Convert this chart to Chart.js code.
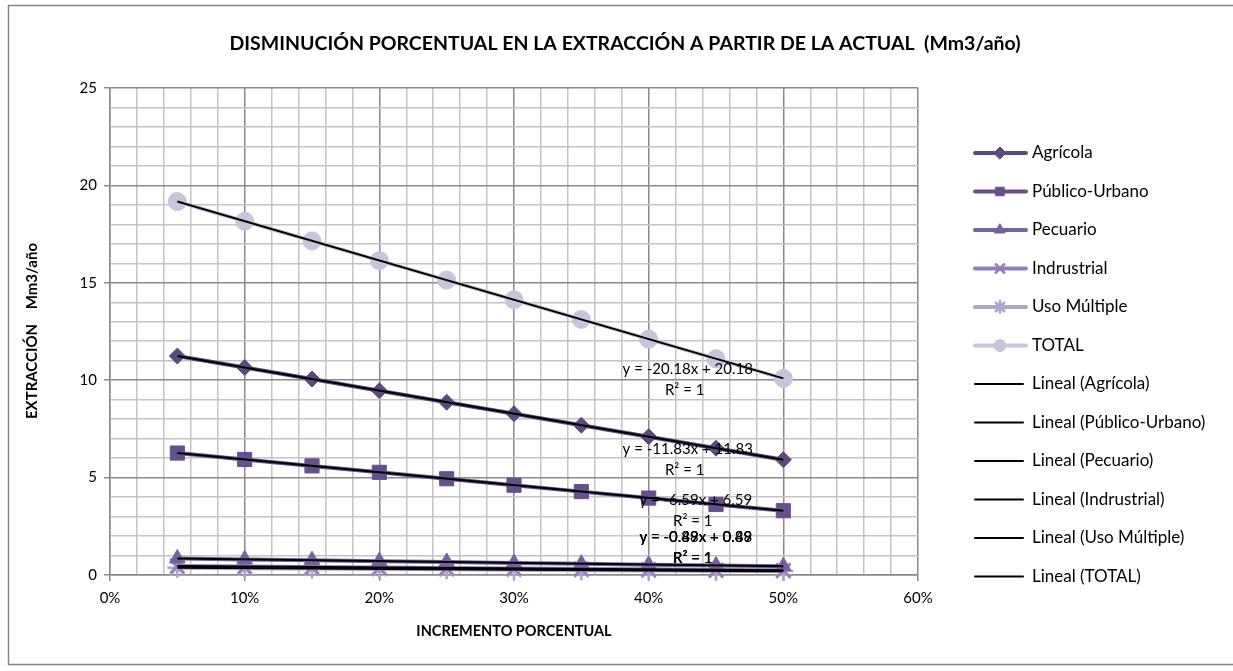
<!DOCTYPE html>
<html>
<head>
<meta charset="utf-8">
<script src="https://cdn.jsdelivr.net/npm/chart.js@4.4.1/dist/chart.umd.min.js"></script>
<style>
  html, body { margin: 0; padding: 0; background: #fff; }
  #wrap { width: 1233px; height: 671px; position: relative; }
</style>
</head>
<body>
<div id="wrap"><canvas id="chart" width="1233" height="671"></canvas></div>
<script>
// Data
const pct = [5, 10, 15, 20, 25, 30, 35, 40, 45, 50];
const agricola = [11.24, 10.65, 10.06, 9.46, 8.87, 8.28, 7.69, 7.10, 6.51, 5.92];
const publicoUrbano = [6.26, 5.93, 5.60, 5.27, 4.94, 4.61, 4.28, 3.95, 3.62, 3.30];
const pecuario = [0.85, 0.80, 0.76, 0.71, 0.67, 0.62, 0.58, 0.53, 0.49, 0.45];
const indrustrial = [0.46, 0.43, 0.41, 0.38, 0.36, 0.34, 0.31, 0.29, 0.26, 0.24];
const usoMultiple = [0.37, 0.35, 0.33, 0.31, 0.29, 0.27, 0.25, 0.23, 0.21, 0.20];
const total = [19.17, 18.16, 17.15, 16.14, 15.14, 14.13, 13.12, 12.11, 11.10, 10.09];

const seriesNames = ['Agrícola', 'Público-Urbano', 'Pecuario', 'Indrustrial', 'Uso Múltiple', 'TOTAL'];
const seriesValues = [agricola, publicoUrbano, pecuario, indrustrial, usoMultiple, total];
const eqLabels = ['y = -11.83x + 11.83', 'y = -6.59x + 6.59', 'y = -0.89x + 0.89',
                  'y = -0.48x + 0.48', 'y = -0.39x + 0.39', 'y = -20.18x + 20.18'];

// styles
const colors = ['#5C4A7E', '#65508E', '#7560A0', '#937FBA', '#AFA2CB', '#CBC3DC'];
const markers = ['rectRot', 'rect', 'triangle', 'crossRot', 'star', 'circle'];
const markerSize = [8, 10, 9, 10, 10, 9];
// where excel put the equation boxes (x in %, y in Mm3)
const eqPos = [[42.9, 6.47], [43.5, 3.85], [43.5, 1.95], [43.5, 1.95], [43.5, 1.95], [42.9, 10.57]];

const FONT = 'Lato, "Open Sans", sans-serif';

// least squares fit, x as fraction
function linFit(xs, ys) {
  const n = xs.length;
  let sx = 0, sy = 0, sxx = 0, sxy = 0;
  for (let i = 0; i < n; i++) {
    const x = xs[i] / 100;
    sx += x; sy += ys[i]; sxx += x * x; sxy += x * ys[i];
  }
  const m = (n * sxy - sx * sy) / (n * sxx - sx * sx);
  const b = (sy - m * sx) / n;
  return { m, b };
}

const datasets = [];
seriesNames.forEach((name, i) => {
  datasets.push({
    label: name,
    data: pct.map((p, k) => ({ x: p, y: seriesValues[i][k] })),
    borderColor: colors[i],
    backgroundColor: colors[i],
    borderWidth: 4,
    pointStyle: markers[i],
    pointRadius: markerSize[i],
    pointBorderWidth: (markers[i] == 'crossRot' || markers[i] == 'star') ? 2.5 : 1,
    pointBorderColor: colors[i],
    clip: false,
    order: 1
  });
});
seriesNames.forEach((name, i) => {
  const fit = linFit(pct, seriesValues[i]);
  const x0 = pct[0], x1 = pct[pct.length - 1];
  datasets.push({
    label: 'Lineal (' + name + ')',
    data: [{ x: x0, y: fit.m * x0 / 100 + fit.b }, { x: x1, y: fit.m * x1 / 100 + fit.b }],
    borderColor: '#000',
    borderWidth: 2,
    pointRadius: 0,
    order: 0,
    isTrend: true
  });
});

// title, axis titles, border, equations and legend
const extrasPlugin = {
  id: 'extras',
  beforeDraw(chart) {
    const ctx = chart.ctx;
    ctx.save();
    ctx.fillStyle = '#fff';
    ctx.fillRect(0, 0, chart.width, chart.height);
    ctx.strokeStyle = '#868686';
    ctx.lineWidth = 1.5;
    ctx.strokeRect(8.5, 5.5, 1240, 659);
    ctx.restore();
  },
  afterDatasetsDraw(chart) {
    const ctx = chart.ctx;
    const xs = chart.scales.x, ys = chart.scales.y;
    ctx.save();
    ctx.fillStyle = '#000';
    ctx.textAlign = 'center';
    ctx.textBaseline = 'middle';
    ctx.font = '15px ' + FONT;
    eqPos.forEach((p, i) => {
      const px = xs.getPixelForValue(p[0]);
      const py = ys.getPixelForValue(p[1]);
      ctx.fillText(eqLabels[i], px, py);
      ctx.fillText('R² = 1', px - 3, py + 21);
    });
    ctx.restore();
  },
  afterDraw(chart) {
    const ctx = chart.ctx;
    ctx.save();
    ctx.fillStyle = '#000';
    ctx.textAlign = 'center';
    ctx.textBaseline = 'middle';
    ctx.font = 'bold 19.5px ' + FONT;
    ctx.fillText('DISMINUCIÓN PORCENTUAL EN LA EXTRACCIÓN A PARTIR DE LA ACTUAL  (Mm3/año)', 625, 44);
    ctx.font = 'bold 14.5px ' + FONT;
    ctx.fillText('INCREMENTO PORCENTUAL', 514, 631);
    ctx.translate(32, 331);
    ctx.rotate(-Math.PI / 2);
    ctx.font = 'bold 15px ' + FONT;
    ctx.fillText('EXTRACCIÓN    Mm3/año', 0, 0);
    ctx.restore();

    // legend
    ctx.save();
    ctx.textAlign = 'left';
    ctx.textBaseline = 'middle';
    ctx.font = '17px ' + FONT;
    chart.data.datasets.forEach((ds, i) => {
      const y = 153 + i * 38.5;
      ctx.beginPath();
      ctx.strokeStyle = ds.borderColor;
      if (ds.isTrend) {
        ctx.lineWidth = 2;
        ctx.moveTo(975, y); ctx.lineTo(1023, y);
        ctx.stroke();
      } else {
        ctx.lineWidth = 4;
        ctx.lineCap = 'round';
        ctx.moveTo(975, y); ctx.lineTo(1026, y);
        ctx.stroke();
        ctx.fillStyle = ds.backgroundColor;
        ctx.strokeStyle = ds.borderColor;
        ctx.lineWidth = ds.pointBorderWidth;
        ctx.beginPath();
        Chart.helpers.drawPoint(ctx, {
          pointStyle: ds.pointStyle, radius: 6, borderWidth: ds.pointBorderWidth, rotation: 0
        }, 1000, y);
      }
      ctx.fillStyle = '#000';
      ctx.fillText(ds.label, 1032, y);
    });
    ctx.restore();
  }
};

const majorGrid = '#8A8A8A';
const minorGrid = '#C4C4C4';

new Chart(document.getElementById('chart'), {
  type: 'line',
  data: { datasets },
  options: {
    responsive: false,
    animation: false,
    layout: { padding: { top: 88, right: 315, left: 0, bottom: 0 } },
    plugins: {
      legend: { display: false },
      title: { display: false },
      tooltip: { enabled: false }
    },
    scales: {
      x: {
        type: 'linear',
        min: 0, max: 60,
        afterFit: (s) => { s.height = 96; },
        ticks: {
          stepSize: 2,
          autoSkip: false,
          maxRotation: 0,
          padding: 8,
          color: '#000',
          font: { family: FONT, size: 15 },
          callback: (v) => (v % 10 === 0 ? v + '%' : '')
        },
        grid: {
          color: (c) => (c.tick && c.tick.value % 10 === 0 ? majorGrid : minorGrid),
          tickColor: (c) => (c.tick && c.tick.value % 10 === 0 ? majorGrid : 'rgba(0,0,0,0)'),
          tickLength: 6,
          lineWidth: 1.5
        },
        border: { color: majorGrid, width: 1.5 }
      },
      y: {
        min: 0, max: 25,
        afterFit: (s) => { s.width = 110; },
        ticks: {
          stepSize: 1,
          autoSkip: false,
          padding: 7,
          color: '#000',
          font: { family: FONT, size: 15 },
          callback: (v) => (v % 5 === 0 ? v : '')
        },
        grid: {
          color: (c) => (c.tick && c.tick.value % 5 === 0 ? majorGrid : minorGrid),
          tickColor: (c) => (c.tick && c.tick.value % 5 === 0 ? majorGrid : 'rgba(0,0,0,0)'),
          tickLength: 6,
          lineWidth: 1.5
        },
        border: { color: majorGrid, width: 1.5 }
      }
    }
  },
  plugins: [extrasPlugin]
});
</script>
</body>
</html>
